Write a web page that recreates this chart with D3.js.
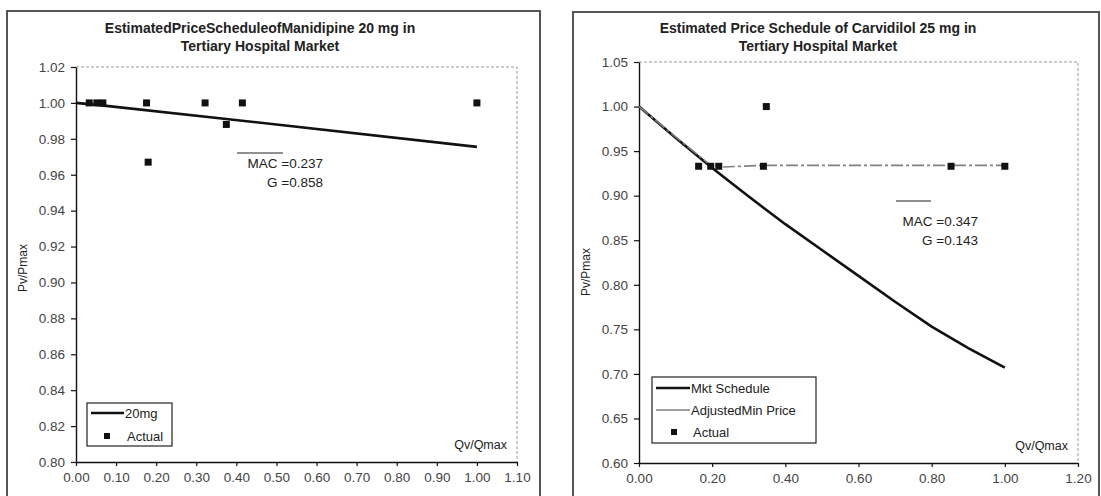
<!DOCTYPE html>
<html>
<head>
<meta charset="utf-8">
<script src="https://cdnjs.cloudflare.com/ajax/libs/d3/7.8.5/d3.min.js"></script>
<style>
  body { margin: 0; background: #fff; }
  svg text { font-family: "Liberation Sans", Arial, sans-serif; fill: #222; }
  .tick text { font-size: 13.5px; fill: #444; }
</style>
</head>
<body>
<div id="chart"></div>
<script>
// Manidipine 20 mg - actual points
var manActualX = [0.033, 0.052, 0.067, 0.176, 0.180, 0.322, 0.375, 0.415, 1.00];
var manActualY = [1.000, 1.000, 1.000, 1.000, 0.967, 1.000, 0.988, 1.000, 1.00];
// Manidipine 20 mg - estimated schedule
var manLineX = [0.00, 0.07, 0.50, 1.00];
var manLineY = [1.000, 0.9985, 0.988, 0.9755];

// Carvidilol 25 mg - actual points
var carActualX = [0.163, 0.196, 0.218, 0.340, 0.348, 0.853, 1.00];
var carActualY = [0.933, 0.933, 0.933, 0.933, 1.000, 0.933, 0.933];
// Carvidilol 25 mg - market schedule
var mktX = [0.0, 0.1, 0.2, 0.3, 0.4, 0.5, 0.6, 0.7, 0.8, 0.9, 1.0];
var mktY = [1.000, 0.965, 0.931, 0.899, 0.868, 0.839, 0.810, 0.781, 0.753, 0.729, 0.707];
// Carvidilol 25 mg - adjusted min price
var adjX = [0.0, 0.1, 0.19, 0.22, 0.34, 1.0];
var adjY = [1.000, 0.966, 0.936, 0.932, 0.934, 0.934];

// tick values
var leftXTicks = [0, 0.1, 0.2, 0.3, 0.4, 0.5, 0.6, 0.7, 0.8, 0.9, 1.0, 1.1];
var leftYTicks = [0.80, 0.82, 0.84, 0.86, 0.88, 0.90, 0.92, 0.94, 0.96, 0.98, 1.00, 1.02];
var rightXTicks = [0, 0.2, 0.4, 0.6, 0.8, 1.0, 1.2];
var rightYTicks = [0.60, 0.65, 0.70, 0.75, 0.80, 0.85, 0.90, 0.95, 1.00, 1.05];

var svg = d3.select("#chart")
  .append("svg")
  .attr("width", 1101)
  .attr("height", 496);

// outer panel frames
svg.append("rect").attr("x", 7).attr("y", 11).attr("width", 533).attr("height", 500)
  .attr("fill", "none").attr("stroke", "#444").attr("stroke-width", 1.8);
svg.append("rect").attr("x", 573).attr("y", 12).attr("width", 526).attr("height", 500)
  .attr("fill", "none").attr("stroke", "#444").attr("stroke-width", 1.8);

function zip(xs, ys) {
  return xs.map(function(x, i) { return {x: x, y: ys[i]}; });
}

function drawPanel(cfg) {
  var x = d3.scaleLinear().domain(cfg.xDomain).range([cfg.left, cfg.right]);
  var y = d3.scaleLinear().domain(cfg.yDomain).range([cfg.bottom, cfg.top]);

  // plot area border (top + right, dashed gray)
  svg.append("path")
    .attr("d", "M" + cfg.left + "," + cfg.top + "H" + cfg.right + "V" + cfg.bottom)
    .attr("fill", "none").attr("stroke", "#999").attr("stroke-width", 1)
    .attr("stroke-dasharray", "3,2");

  var xAxis = svg.append("g")
    .attr("transform", "translate(0," + cfg.bottom + ")")
    .call(d3.axisBottom(x).tickValues(cfg.xTicks).tickFormat(d3.format(".2f"))
      .tickSize(4).tickSizeOuter(0).tickPadding(6));
  var yAxis = svg.append("g")
    .attr("transform", "translate(" + cfg.left + ",0)")
    .call(d3.axisLeft(y).tickValues(cfg.yTicks).tickFormat(d3.format(".2f"))
      .tickSize(5).tickSizeOuter(0).tickPadding(6));
  [xAxis, yAxis].forEach(function(a) {
    a.select(".domain").attr("stroke", "#111").attr("stroke-width", 1.4);
    a.selectAll(".tick line").attr("stroke", "#111").attr("stroke-width", 1.2);
  });

  // titles
  cfg.title.forEach(function(t, i) {
    svg.append("text")
      .attr("x", cfg.titleX).attr("y", 33 + i * 18)
      .attr("text-anchor", "middle")
      .attr("font-size", "14px").attr("font-weight", "bold")
      .text(t);
  });

  // axis labels
  svg.append("text")
    .attr("transform", "translate(" + cfg.yLabelX + "," + cfg.yLabelY + ") rotate(-90)")
    .attr("text-anchor", "middle").attr("font-size", "12px")
    .text("Pv/Pmax");
  svg.append("text")
    .attr("x", cfg.right - 10).attr("y", cfg.bottom - 13)
    .attr("text-anchor", "end").attr("font-size", "12.5px")
    .text("Qv/Qmax");

  var line = d3.line().x(function(d) { return x(d.x); }).y(function(d) { return y(d.y); });

  cfg.lines.forEach(function(l) {
    svg.append("path")
      .datum(zip(l.xs, l.ys))
      .attr("d", line)
      .attr("fill", "none")
      .attr("stroke", l.color)
      .attr("stroke-width", l.width)
      .attr("stroke-dasharray", l.dash || null);
  });

  svg.append("g").selectAll("rect")
    .data(zip(cfg.pointsX, cfg.pointsY))
    .enter()
    .append("rect")
    .attr("x", function(d) { return x(d.x) - 3.5; })
    .attr("y", function(d) { return y(d.y) - 3.5; })
    .attr("width", 7).attr("height", 7)
    .attr("fill", "#111");

  // MAC / G annotation
  var a = cfg.note;
  svg.append("line")
    .attr("x1", a.olX1).attr("x2", a.olX2).attr("y1", a.olY).attr("y2", a.olY)
    .attr("stroke", "#222").attr("stroke-width", 1.2);
  svg.append("text").attr("x", a.x).attr("y", a.y)
    .attr("text-anchor", "end").attr("font-size", "13.5px").text(a.mac);
  svg.append("text").attr("x", a.x).attr("y", a.y + 19)
    .attr("text-anchor", "end").attr("font-size", "13.5px").text(a.g);

  // legend
  var lg = cfg.legend;
  svg.append("rect")
    .attr("x", lg.x).attr("y", lg.y).attr("width", lg.w).attr("height", lg.h)
    .attr("fill", "#fff").attr("stroke", "#222").attr("stroke-width", 1.2);
  lg.items.forEach(function(it, i) {
    var cy = lg.y + lg.firstRow + i * lg.rowH;
    if (it.type === "line") {
      svg.append("line")
        .attr("x1", lg.x + 4).attr("x2", lg.x + lg.sampleW).attr("y1", cy).attr("y2", cy)
        .attr("stroke", it.color).attr("stroke-width", it.width);
    } else {
      svg.append("rect")
        .attr("x", lg.x + lg.markerX - 3).attr("y", cy - 3)
        .attr("width", 6).attr("height", 6).attr("fill", "#111");
    }
    svg.append("text")
      .attr("x", lg.x + (it.type === "line" ? lg.sampleW + 1 : lg.textX))
      .attr("y", cy + 4.5)
      .attr("font-size", "13px")
      .text(it.label);
  });
}

drawPanel({
  left: 76, right: 517, top: 67, bottom: 462,
  xDomain: [0, 1.1], yDomain: [0.80, 1.02],
  xTicks: leftXTicks, yTicks: leftYTicks,
  title: ["EstimatedPriceScheduleofManidipine 20 mg in", "Tertiary Hospital Market"],
  titleX: 260,
  yLabelX: 27, yLabelY: 268,
  lines: [{xs: manLineX, ys: manLineY, color: "#111", width: 2.6}],
  pointsX: manActualX, pointsY: manActualY,
  note: {x: 323, y: 168, mac: "MAC =0.237", g: "G =0.858", olX1: 237, olX2: 283, olY: 153},
  legend: {x: 87, y: 403, w: 85, h: 43, firstRow: 10, rowH: 23, sampleW: 37, markerX: 20, textX: 40,
    items: [{type: "line", label: "20mg", color: "#111", width: 2.6},
            {type: "marker", label: "Actual"}]}
});

drawPanel({
  left: 639, right: 1078, top: 62, bottom: 463,
  xDomain: [0, 1.2], yDomain: [0.60, 1.05],
  xTicks: rightXTicks, yTicks: rightYTicks,
  title: ["Estimated Price Schedule of Carvidilol 25 mg in", "Tertiary Hospital Market"],
  titleX: 818,
  yLabelX: 590, yLabelY: 272,
  lines: [{xs: mktX, ys: mktY, color: "#111", width: 2.6},
          {xs: adjX, ys: adjY, color: "#808080", width: 1.6, dash: "12,3,3,3"}],
  pointsX: carActualX, pointsY: carActualY,
  note: {x: 978, y: 226, mac: "MAC =0.347", g: "G =0.143", olX1: 896, olX2: 931, olY: 201},
  legend: {x: 652, y: 377, w: 164, h: 66, firstRow: 11, rowH: 22, sampleW: 38, markerX: 22, textX: 41,
    items: [{type: "line", label: "Mkt Schedule", color: "#111", width: 2.6},
            {type: "line", label: "AdjustedMin Price", color: "#808080", width: 1.6},
            {type: "marker", label: "Actual"}]}
});
</script>
</body>
</html>
